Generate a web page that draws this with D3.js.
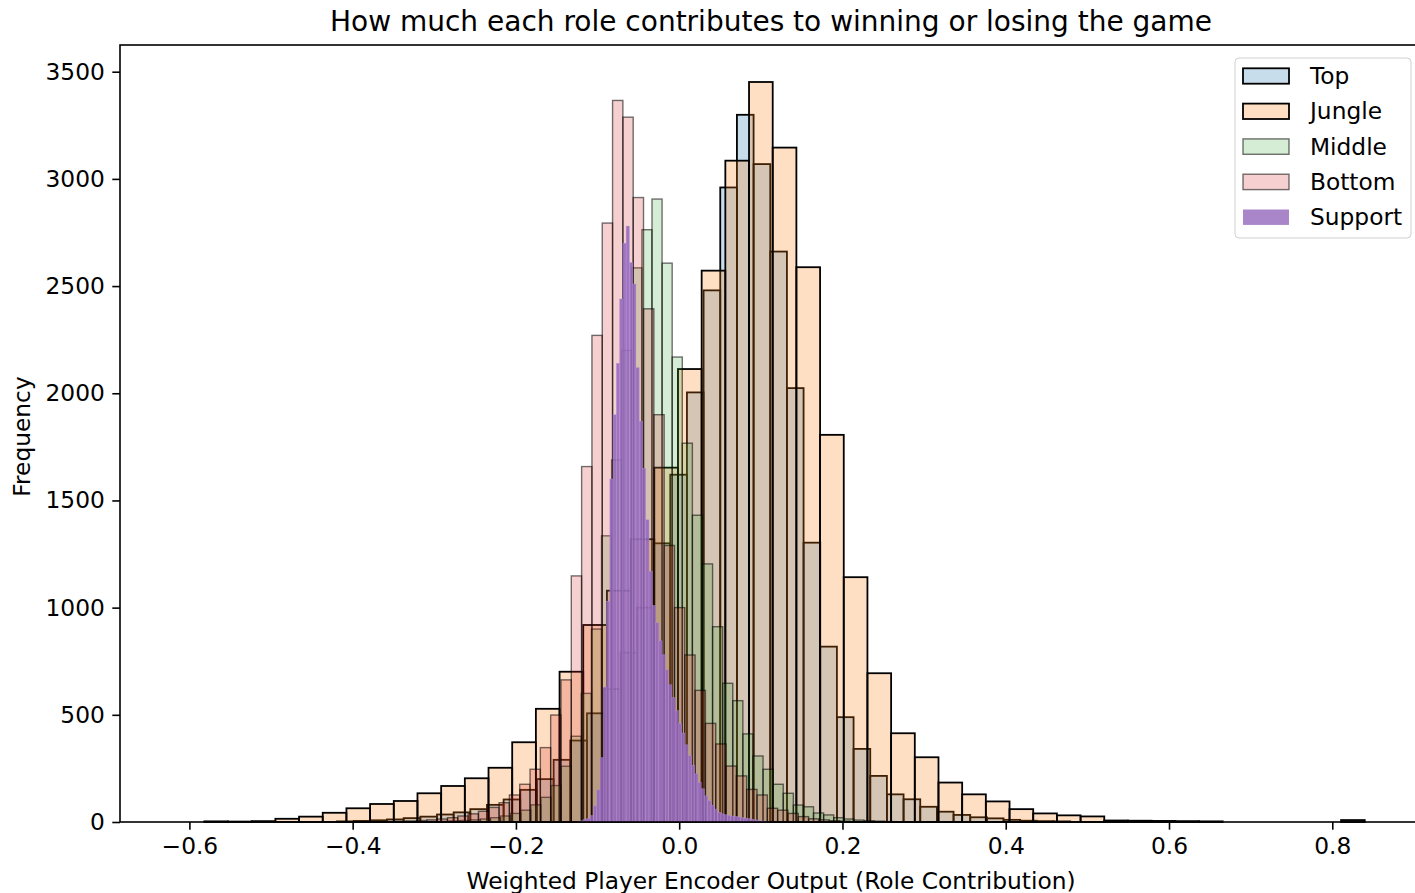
<!DOCTYPE html>
<html>
<head>
<meta charset="utf-8">
<script src="https://cdn.jsdelivr.net/npm/d3@7"></script>
<style>
  body { margin: 0; background: #fff; }
  text { font-family: "DejaVu Sans", sans-serif; fill: #000; }
</style>
</head>
<body>
<div id="chart"></div>
<script>
//Roles in drawing / legend order
var roles = ["Top", "Jungle", "Middle", "Bottom", "Support"];

//Bin start + bin width + counts for each role
var topStart = -0.4192, topWidth = 0.020413;
var topCounts = [3, 5, 8, 12, 18, 25, 35, 45, 60, 80, 105, 150, 200, 290, 380, 507, 620, 790, 1000, 1300,
  1620, 2004, 2480, 2960, 3299, 3069, 2661, 2024, 1303, 818, 489, 341, 215, 129, 106, 71, 48, 33, 22, 17,
  10, 6, 4, 3];

var jungleStart = -0.5817, jungleWidth = 0.02901;
var jungleCounts = [3, 2, 4, 15, 25, 43, 64, 84, 98, 134, 168, 204, 253, 372, 528, 701, 919, 1079, 1319, 1653,
  2113, 2572, 3085, 3452, 3146, 2588, 1806, 1142, 694, 414, 302, 184, 129, 96, 60, 40, 31, 26, 7, 6,
  5, 4, 3, 0, 0, 0, 0, 0, 9];

var middleStart = -0.3178, middleWidth = 0.012368;
var middleCounts = [1, 2, 3, 5, 7, 10, 14, 20, 28, 40, 55, 80, 115, 170, 260, 400, 600, 900, 1335, 1689,
  2200, 2585, 2763, 2906, 2607, 2169, 1767, 1431, 1204, 911, 647, 566, 411, 308, 246, 176, 134, 79, 71, 42,
  33, 20, 14, 9, 6, 4, 2, 1];

var bottomStart = -0.3723, bottomWidth = 0.012638;
var bottomCounts = [1, 2, 3, 5, 7, 10, 14, 20, 28, 38, 50, 68, 90, 126, 176, 246, 347, 499, 663, 1148,
  1658, 2270, 2794, 3366, 3288, 2913, 2394, 1900, 1290, 1000, 779, 614, 460, 364, 261, 215, 152, 126, 64, 55,
  40, 25, 15, 10, 6, 4, 2, 1];

var supportStart = -0.125, supportWidth = 0.004;
var supportCounts = [1, 6, 12, 17, 30, 75, 150, 300, 630, 1030, 1600, 1900, 2140, 2440, 2700, 2780, 2610, 2510, 2120, 1870,
  1650, 1410, 1170, 1010, 930, 845, 780, 710, 640, 580, 520, 460, 415, 360, 310, 265, 225, 185, 155, 122,
  100, 78, 60, 45, 38, 34, 31, 28, 26, 24, 21, 18, 16, 13, 10, 8, 5, 3, 1];

var xTicks = [-0.6, -0.4, -0.2, 0.0, 0.2, 0.4, 0.6, 0.8];
var yTicks = [0, 500, 1000, 1500, 2000, 2500, 3000, 3500];
var xLimits = [-0.685, 0.905];

//Sizes
var width = 1415, height = 893;
var margin = {top: 45, left: 120, right: -3, bottom: 71};
var fontSize = 23.3;

//Styles per role
var styles = {
  Top:     {fill: "#1f77b4", fo: 0.25, stroke: "#000", so: 1,    sw: 1.8},
  Jungle:  {fill: "#ff7f0e", fo: 0.25, stroke: "#000", so: 1,    sw: 1.8},
  Middle:  {fill: "#2ca02c", fo: 0.2,  stroke: "#000", so: 0.55, sw: 1.4},
  Bottom:  {fill: "#d62728", fo: 0.22, stroke: "#000", so: 0.55, sw: 1.4},
  Support: {fill: "#9467bd", fo: 0.88, stroke: "#b89ad8", so: 0.6, sw: 0.6}
};

var series = [
  {role: "Top", start: topStart, w: topWidth, counts: topCounts},
  {role: "Jungle", start: jungleStart, w: jungleWidth, counts: jungleCounts},
  {role: "Middle", start: middleStart, w: middleWidth, counts: middleCounts},
  {role: "Bottom", start: bottomStart, w: bottomWidth, counts: bottomCounts},
  {role: "Support", start: supportStart, w: supportWidth, counts: supportCounts}
];

var maxCount = d3.max(series, function(s) { return d3.max(s.counts); });

var x = d3.scaleLinear()
          .domain(xLimits)
          .range([margin.left, width - margin.right]);
var y = d3.scaleLinear()
          .domain([0, maxCount * 1.05])
          .range([height - margin.bottom, margin.top]);

var svg = d3.select("#chart").append("svg")
            .attr("width", width)
            .attr("height", height);

//Bars
var plot = svg.append("g").attr("class", "bars");
series.forEach(function(s) {
  var st = styles[s.role];
  plot.append("g")
      .selectAll("rect")
      .data(s.counts)
      .enter()
      .append("rect")
      .attr("x", function(d, i) { return x(s.start + i * s.w); })
      .attr("width", function(d, i) { return x(s.start + (i + 1) * s.w) - x(s.start + i * s.w); })
      .attr("y", function(d) { return y(d); })
      .attr("height", function(d) { return y(0) - y(d); })
      .attr("fill", st.fill)
      .attr("fill-opacity", st.fo)
      .attr("stroke", st.stroke)
      .attr("stroke-opacity", st.so)
      .attr("stroke-width", st.sw);
});

//Axes
var tickFmt = function(d) { return d3.format(".1f")(d).replace("-", "\u2212"); };
var xAxis = svg.append("g")
               .attr("transform", "translate(0," + y(0) + ")")
               .call(d3.axisBottom(x).tickValues(xTicks).tickFormat(tickFmt).tickSize(7.7).tickPadding(7.5));
var yAxis = svg.append("g")
               .attr("transform", "translate(" + margin.left + ",0)")
               .call(d3.axisLeft(y).tickValues(yTicks).tickFormat(d3.format("d")).tickSize(7.7).tickPadding(7.5));
[xAxis, yAxis].forEach(function(a) {
  a.selectAll("text").style("font-size", fontSize + "px").style("font-family", "DejaVu Sans");
  a.selectAll("line").attr("stroke", "#000").attr("stroke-width", 1.6);
  a.select(".domain").remove();
});

//Spines
svg.append("rect")
   .attr("x", margin.left)
   .attr("y", margin.top)
   .attr("width", x(xLimits[1]) - margin.left)
   .attr("height", y(0) - margin.top)
   .attr("fill", "none")
   .attr("stroke", "#000")
   .attr("stroke-width", 1.6);

//Title and labels
var cx = (margin.left + x(xLimits[1])) / 2;
svg.append("text")
   .attr("x", cx + 2).attr("y", 31)
   .attr("text-anchor", "middle")
   .style("font-size", "28px")
   .text("How much each role contributes to winning or losing the game");
svg.append("text")
   .attr("x", cx + 2).attr("y", 889)
   .attr("text-anchor", "middle")
   .style("font-size", fontSize + "px")
   .text("Weighted Player Encoder Output (Role Contribution)");
svg.append("text")
   .attr("transform", "translate(30," + ((margin.top + y(0)) / 2 + 3) + ") rotate(-90)")
   .attr("text-anchor", "middle")
   .style("font-size", fontSize + "px")
   .text("Frequency");

//Legend
var legend = svg.append("g").attr("transform", "translate(1235,58)");
legend.append("rect")
      .attr("width", 176).attr("height", 180)
      .attr("rx", 4)
      .attr("fill", "#fff").attr("fill-opacity", 0.8)
      .attr("stroke", "#d0d0d0");
var item = legend.selectAll("g.item")
                 .data(roles)
                 .enter()
                 .append("g")
                 .attr("class", "item")
                 .attr("transform", function(d, i) { return "translate(8," + (18 + i * 35.3) + ")"; });
item.append("rect")
    .attr("y", -7.7).attr("width", 46).attr("height", 15.4)
    .attr("fill", function(d) { return styles[d].fill; })
    .attr("fill-opacity", function(d) { return d == "Support" ? 0.8 : styles[d].fo; })
    .attr("stroke", function(d) { return d == "Support" ? "none" : styles[d].stroke; })
    .attr("stroke-opacity", function(d) { return styles[d].so; })
    .attr("stroke-width", function(d) { return d == "Support" ? 0 : styles[d].sw; });
item.append("text")
    .attr("x", 67).attr("dy", "0.35em")
    .style("font-size", fontSize + "px")
    .text(function(d) { return d; });
</script>
</body>
</html>
